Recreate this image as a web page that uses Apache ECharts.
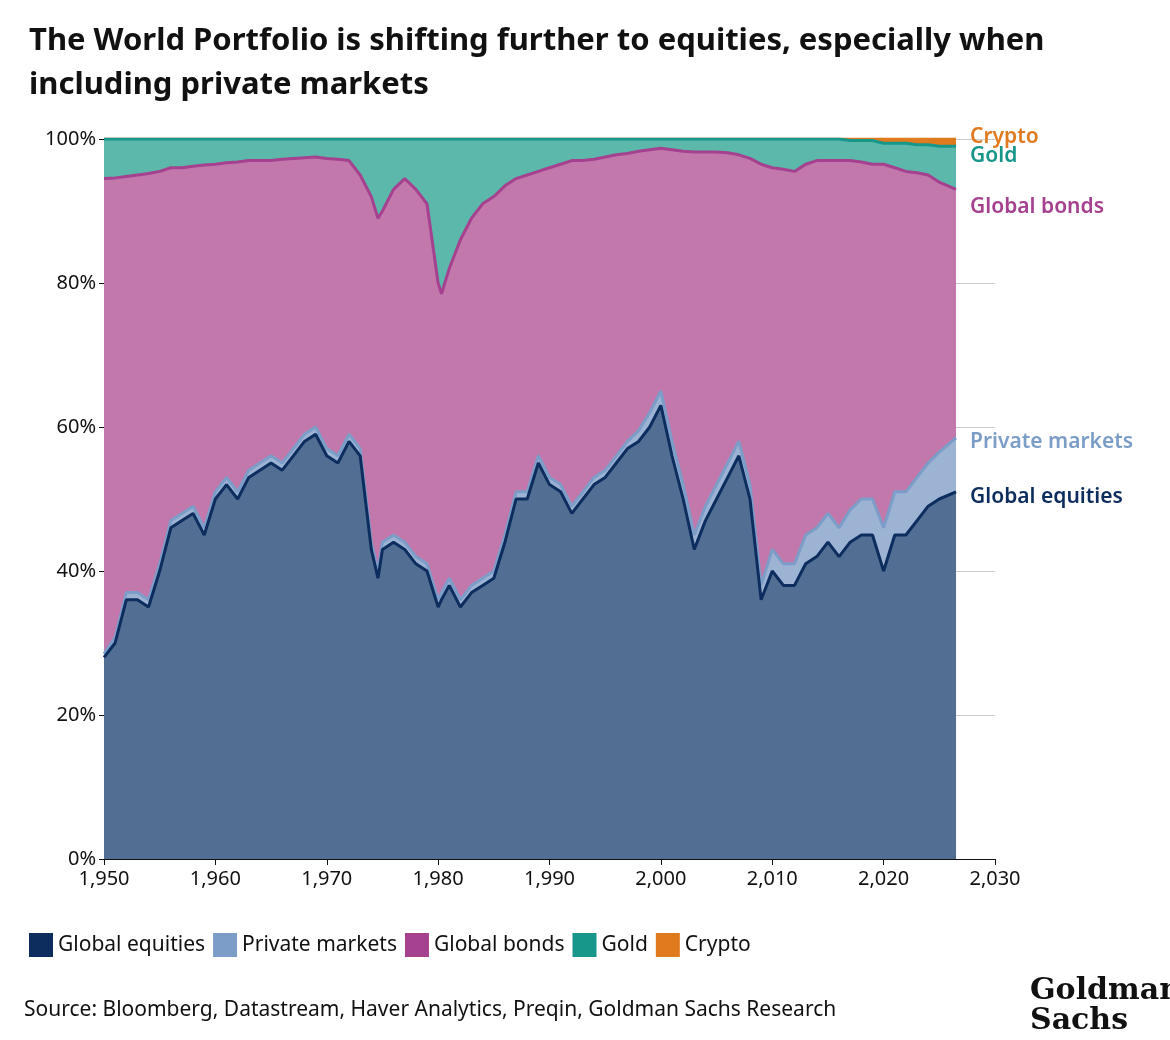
<!DOCTYPE html>
<html><head><meta charset="utf-8">
<script src="https://cdn.jsdelivr.net/npm/echarts@6/dist/echarts.min.js"></script>
<style>body{margin:0;background:#fff}#c{width:1170px;height:1040px}</style></head>
<body><div id="c"></div>
<script>
const years = [1950,1951,1952,1953,1954,1955,1956,1957,1958,1959,1960,1961,1962,1963,1964,1965,1966,1967,1968,1969,1970,1971,1972,1973,1974,1974.6,1975,1976,1977,1978,1979,1980,1980.3,1981,1982,1983,1984,1985,1986,1987,1988,1989,1990,1991,1992,1993,1994,1995,1996,1997,1998,1999,2000,2001,2002,2003,2004,2005,2006,2007,2008,2009,2010,2011,2012,2013,2014,2015,2016,2017,2018,2019,2020,2021,2022,2023,2024,2025,2026.5];
// cumulative tops (%)
const equitiesTop = [28,30,36,36,35,40,46,47,48,45,50,52,50,53,54,55,54,56,58,59,56,55,58,56,43,39,43,44,43,41,40,35,36,38,35,37,38,39,44,50,50,55,52,51,48,50,52,53,55,57,58,60,63,56,50,43,47,50,53,56,50,36,40,38,38,41,42,44,42,44,45,45,40,45,45,47,49,50,51];
const privateTop = [28.5,30.8,37,37,36,41,47,48,49,46,51,53,51,54,55,56,55,57,59,60,57,56,59,57,44,40,44,45,44,42,41,36,37,39,36,38,39,40,45,51,51,56,53,52,49,51,53,54,56,58,59.5,62,65,58,52,45,49,52,55,58,52,38,43,41,41,45,46,48,46,48.5,50,50,46,51,51,53,55,56.5,58.5];
const bondsTop = [94.5,94.6,94.8,95,95.2,95.5,96,96,96.2,96.4,96.5,96.7,96.8,97,97,97,97.2,97.3,97.4,97.5,97.3,97.2,97,95,92,89,90,93,94.5,93,91,80,78.5,82,86,89,91,92,93.5,94.5,95,95.5,96,96.5,97,97,97.2,97.5,97.8,98,98.3,98.5,98.7,98.5,98.3,98.2,98.2,98.2,98.1,97.8,97.3,96.5,96,95.8,95.5,96.5,97,97,97,97,96.8,96.5,96.5,96,95.5,95.3,95,94,93];
const goldTop = years.map(y => y < 2017 ? 100 : y < 2020 ? 99.8 : y < 2023 ? 99.4 : y < 2025 ? 99.2 : 99);
const cryptoTop = years.map(() => 100);

const names = ['Global equities','Private markets','Global bonds','Gold','Crypto'];
const lineColors = ['#0d2d5e','#7d9dc9','#a5418e','#17968a','#e07a1f'];
const fillColors = ['#536e93','#9db3d4','#c278ab','#5bb8aa','#e07a1f'];
const tops = [equitiesTop, privateTop, bondsTop, goldTop, cryptoTop];
const labelOffsets = [[6,5],[6,4],[6,18],[6,10],[6,-2]];

const series = [];
for (let i = 4; i >= 0; i--) {
  series.push({
    name: names[i], type: 'line', symbol: 'none', smooth: false,
    data: years.map((y,k) => [y, tops[i][k]]),
    itemStyle: {color: lineColors[i]},
    lineStyle: {color: lineColors[i], width: 3},
    areaStyle: {color: fillColors[i], opacity: 1, origin: 'start'},
    endLabel: {show: true, formatter: names[i], color: lineColors[i], fontSize: 21, fontWeight: 600,
      fontFamily: 'Noto Sans', offset: labelOffsets[i]},
    z: 2 + (4 - i)
  });
}
const chart = echarts.init(document.getElementById('c'));
chart.setOption({
  animation: false,
  textStyle: {fontFamily: 'Noto Sans'},
  title: {text: 'The World Portfolio is shifting further to equities, especially when\nincluding private markets',
    left: 24, top: 14, textStyle: {fontSize: 31, fontWeight: 'bold', color: '#111', lineHeight: 44}},
  grid: {left: 104, right: 175, top: 139, bottom: 181},
  xAxis: {type: 'value', min: 1950, max: 2030, interval: 10,
    axisLine: {lineStyle: {color: '#111'}}, axisTick: {show: true, length: 6, lineStyle: {color: '#111'}},
    splitLine: {show: false}, axisLabel: {color: '#111', fontSize: 20, margin: 10}},
  yAxis: {type: 'value', min: 0, max: 100, interval: 20,
    axisLine: {show: true, lineStyle: {color: '#111'}},
    splitLine: {lineStyle: {color: '#ccc'}},
    axisLabel: {formatter: '{value}%', color: '#111', fontSize: 20}},
  legend: {data: names, left: 24, top: 928, icon: 'rect', itemWidth: 24, itemHeight: 24, itemGap: 8,
    textStyle: {fontSize: 21, color: '#111'}},
  graphic: [
    {type: 'text', left: 24, top: 1000, style: {text: 'Source: Bloomberg, Datastream, Haver Analytics, Preqin, Goldman Sachs Research', fontSize: 21, fill: '#111', fontFamily: 'Noto Sans'}},
    {type: 'text', left: 1030, top: 976, style: {text: 'Goldman\nSachs', fontSize: 30, fontWeight: 'bold', fill: '#111', fontFamily: 'DejaVu Serif', lineHeight: 30}}
  ],
  series: series
});
</script></body></html>
